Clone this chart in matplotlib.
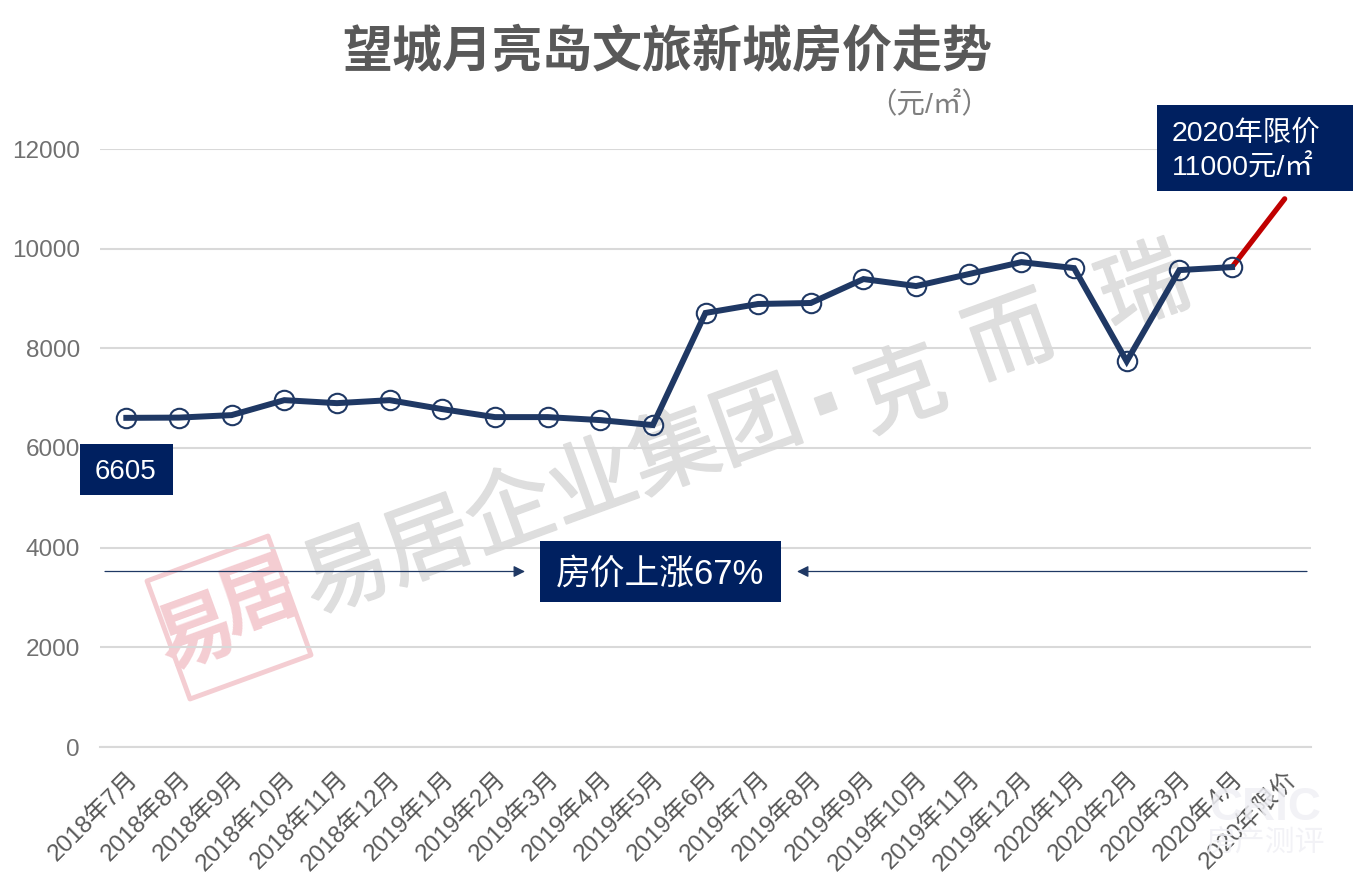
import matplotlib
matplotlib.use('Agg')
from matplotlib import pyplot as plt
from matplotlib import patheffects
from matplotlib.patches import Rectangle, Polygon, FancyArrowPatch
from matplotlib.transforms import ScaledTranslation

FONTS = ['Liberation Sans', 'Noto Sans CJK SC']
plt.rcParams['font.family'] = FONTS

W, H = 1353, 889

months = ['2018年7月', '2018年8月', '2018年9月', '2018年10月', '2018年11月', '2018年12月',
          '2019年1月', '2019年2月', '2019年3月', '2019年4月', '2019年5月', '2019年6月',
          '2019年7月', '2019年8月', '2019年9月', '2019年10月', '2019年11月', '2019年12月',
          '2020年1月', '2020年2月', '2020年3月', '2020年4月', '2020年限价']
prices = [6605, 6610, 6660, 6960, 6900, 6960, 6780, 6620, 6620, 6560, 6460, 8710,
          8890, 8910, 9390, 9250, 9490, 9730, 9610, 7740, 9570, 9630]
limit_price = 11000
yticks = [0, 2000, 4000, 6000, 8000, 10000, 12000]

NAVY = '#1f3864'
BOX = '#002060'
PINK = '#f4cdd2'


def fx(x):
    return x / W


def fy(y):
    return 1 - y / H


def box(fig, x0, y0, x1, y1):
    '''Filled label box, pixel coordinates from the top left.'''
    fig.add_artist(Rectangle((fx(x0), fy(y1)), fx(x1 - x0), y1 / H - y0 / H, transform=fig.transFigure,
                             fc=BOX, ec='none', zorder=6))


def label(fig, x, y, s, **kw):
    kw.setdefault('ha', 'center')
    kw.setdefault('va', 'center')
    kw.setdefault('zorder', 7)
    return fig.text(fx(x), fy(y), s, **kw)


fig = plt.figure(figsize=(W / 100, H / 100), dpi=100)
ax = fig.add_axes([fx(100), fy(747), fx(1211), 598 / H])
ax.patch.set_visible(False)

x = list(range(len(prices)))
ax.plot(x, prices, color=NAVY, lw=4.3, zorder=3, solid_joinstyle='miter')
ax.plot(x, prices, ls='none', marker='o', ms=14, mfc='none', mec=NAVY, mew=1.5, zorder=3)
ax.plot([x[-1], len(months) - 1], [prices[-1], limit_price], color='#c00000', lw=3.8,
        solid_capstyle='round', zorder=2)

ax.set_xlim(-0.5, len(months) - 0.5)
ax.set_ylim(0, 12000)
ax.set_yticks(yticks)
ax.set_xticks(range(len(months)))
ax.set_xticklabels(months, rotation=45, ha='right', rotation_mode='anchor', fontsize=17.5, color='#595959')
# labels sit a little left of their ticks
shift = ScaledTranslation(-9 / 100, 0, fig.dpi_scale_trans)
for t in ax.get_xticklabels():
    t.set_transform(t.get_transform() + shift)
ax.tick_params(axis='y', length=0, labelsize=17.5, labelcolor='#707070', pad=14.5)
ax.tick_params(axis='x', length=0, pad=15)
ax.grid(axis='y', color='#d9d9d9', lw=1.5)
ax.set_axisbelow(True)
for side in ['top', 'right', 'left']:
    ax.spines[side].set_visible(False)
ax.spines['bottom'].set_color('#d9d9d9')
ax.spines['bottom'].set_linewidth(1.5)

# title and unit
label(fig, 667, 53, '望城月亮岛文旅新城房价走势', fontsize=36, fontweight='bold', color='#595959')
label(fig, 929, 105, '（元/㎡）', fontsize=20.5, color='#7f7f7f')

# watermark, under the axes so the grid and line stay on top
thick = [patheffects.withStroke(linewidth=1.4, foreground='#dedede')]
for xc, yc, s, size in [(553, 502, '易居企业集团', 63), (827, 407, '▪', 50), (903, 395, '克', 63),
                        (1012, 342, '而', 63), (1145, 293, '瑞', 63)]:
    t = label(fig, xc, yc, s, fontsize=size, color='#dedede', rotation=20, zorder=-1)
    t.set_path_effects(thick)
fig.add_artist(Polygon([(fx(147), fy(581)), (fx(268), fy(536)), (fx(311), fy(655)), (fx(190), fy(699))],
                       closed=True, transform=fig.transFigure, fc='none', ec=PINK, lw=3.5,
                       joinstyle='round', zorder=-1))
label(fig, 197, 636, '易', fontsize=56, fontweight='bold', color=PINK, rotation=20, zorder=-1)
label(fig, 258, 600, '居', fontsize=56, fontweight='bold', color=PINK, rotation=20, zorder=-1)

# corner logo
label(fig, 1265, 808, 'CRIC', fontsize=33, fontweight='bold', color='#f0f0f5', alpha=0.85, zorder=8)
label(fig, 1265, 843, '房产测评', fontsize=21.5, color='#f0f0f5', alpha=0.85, zorder=8)

# callouts
box(fig, 1157, 105, 1353, 191)
label(fig, 1172, 133, '2020年限价', fontsize=20.5, color='white', ha='left')
label(fig, 1172, 168, '11000元/㎡', fontsize=20.5, color='white', ha='left')
box(fig, 80, 444, 173, 495)
label(fig, 126, 472, '6605', fontsize=20, color='white')
box(fig, 540, 541, 781, 602)
label(fig, 660, 574, '房价上涨67%', fontsize=25, color='white')

# arrows either side of the rise label
for start, end in [(105, 525), (1307, 797)]:
    fig.add_artist(FancyArrowPatch(
        (fx(start), fy(571.5)), (fx(end), fy(571.5)), transform=fig.transFigure, arrowstyle='-|>',
        mutation_scale=17, color=NAVY, lw=0.9, shrinkA=0, shrinkB=0, zorder=5))

fig.savefig('out.png', dpi=100)
